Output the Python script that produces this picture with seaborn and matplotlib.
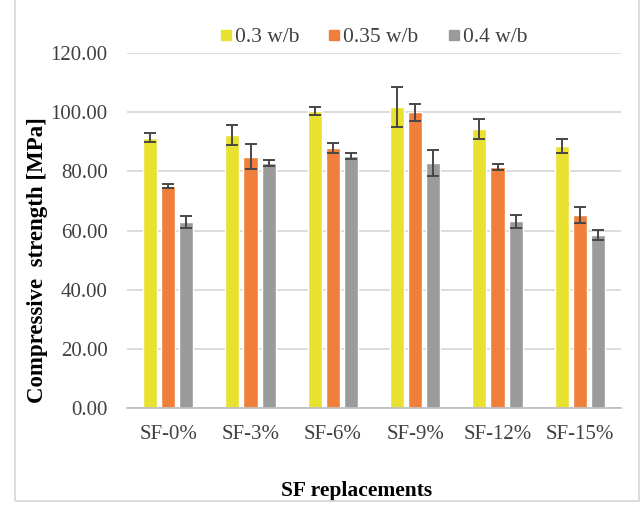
import matplotlib
matplotlib.use("Agg")
import matplotlib.pyplot as plt
from matplotlib.lines import Line2D
from matplotlib.patches import Rectangle
import numpy as np
import pandas as pd
import seaborn as sns

# Compressive strength by silica-fume replacement and water/binder ratio
categories = ["SF-0%", "SF-3%", "SF-6%", "SF-9%", "SF-12%", "SF-15%"]
series_names = ["0.3 w/b", "0.35 w/b", "0.4 w/b"]
strength_03 = [91.3, 92.3, 100.4, 101.8, 94.3, 88.6]
strength_035 = [75.0, 84.9, 87.9, 99.9, 81.5, 65.2]
strength_04 = [62.9, 82.8, 85.2, 82.8, 63.2, 58.5]
err_03 = [1.5, 3.5, 1.2, 6.7, 3.3, 2.3]
err_035 = [0.8, 4.2, 1.8, 3.0, 1.0, 2.7]
err_04 = [2.0, 1.0, 1.0, 4.4, 2.2, 1.8]
y_ticks = [0, 20, 40, 60, 80, 100, 120]

colors = ["#E8E130", "#EF7F3A", "#9A9C9C"]

df = pd.DataFrame({
    "SF": categories * 3,
    "series": np.repeat(series_names, len(categories)),
    "strength": strength_03 + strength_035 + strength_04,
    "err": err_03 + err_035 + err_04,
})

sns.set_theme(style="white")
plt.rcParams["font.family"] = ["Liberation Serif", "DejaVu Serif"]

fig = plt.figure(figsize=(6.41, 5.08), dpi=100)
ax = fig.add_axes([127 / 641, 1 - 408 / 508, (621 - 127) / 641, (408 - 53) / 508])

sns.barplot(data=df, x="SF", y="strength", hue="series", palette=colors,
            order=categories, hue_order=series_names, errorbar=None,
            width=0.66, gap=0.22, saturation=1, legend=False, ax=ax, zorder=2)

# error bars at each bar's centre
for container, name in zip(ax.containers, series_names):
    sub = df[df["series"] == name].set_index("SF").loc[categories]
    xs = [p.get_x() + p.get_width() / 2 for p in container.patches]
    ax.errorbar(xs, sub["strength"].values, yerr=sub["err"].values, fmt="none",
                ecolor="#474747", elinewidth=1.4, capsize=4.2, capthick=1.4, zorder=3)

ax.set_ylim(0, 120)
ax.set_xlim(-0.5, 5.5)
ax.set_yticks(y_ticks)
ax.set_yticklabels([f"{v:.2f}" for v in y_ticks])
ax.yaxis.grid(True, color="#D9D9D9", linewidth=1.3, zorder=0)
ax.set_axisbelow(True)
for side in ["left", "right", "top"]:
    ax.spines[side].set_visible(False)
ax.spines["bottom"].set_color("#BFBFBF")
ax.spines["bottom"].set_linewidth(1.3)
ax.tick_params(axis="both", length=0, labelsize=15, colors="#404040")
ax.tick_params(axis="y", pad=14)
ax.tick_params(axis="x", pad=12)

ax.set_xlabel("SF replacements", fontsize=15.5, fontweight="bold", color="black")
ax.xaxis.set_label_coords((357 - 127) / 494, (408 - 491) / 355)
ax.set_ylabel("Compressive  strength [MPa]", fontsize=16.5, fontweight="bold", color="black")
ax.yaxis.set_label_coords((37 - 127) / 494, (408 - 260) / 355)
ax.xaxis.label.set_va("center")
ax.yaxis.label.set_va("center")

handles = [Line2D([], [], marker="s", linestyle="none", markersize=6.5,
                  markerfacecolor=c, markeredgecolor=c) for c in colors]
ax.legend(handles, series_names, loc="center", bbox_to_anchor=(0.5, (408 - 37) / 355),
          ncol=3, frameon=False, fontsize=15.5, handletextpad=0.2,
          columnspacing=1.4, handlelength=0.45, borderaxespad=0.0,
          borderpad=0.0, labelcolor="#404040")

fig.patches.append(Rectangle((15, 7), 624, 520, transform=None, fill=False,
                             edgecolor="#D9D9D9", linewidth=1.3))

fig.savefig("out.png", dpi=100)
